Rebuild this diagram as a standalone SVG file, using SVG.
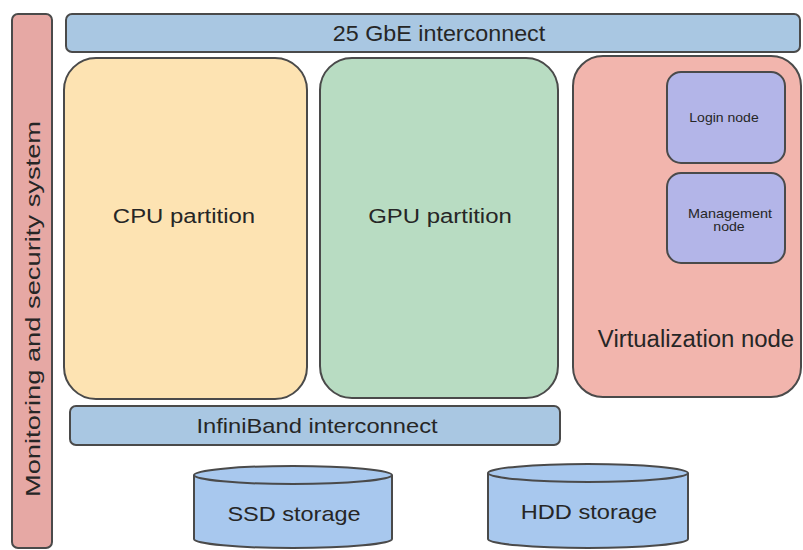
<svg xmlns="http://www.w3.org/2000/svg" width="803" height="550" viewBox="0 0 803 550">
<style>
.s{stroke:#4a4a4a;stroke-width:2}
.t{font-family:"Liberation Sans",Arial,sans-serif;fill:#262626;text-anchor:middle;dominant-baseline:central}
</style>
<rect width="803" height="550" fill="#ffffff"/>
<g id="monitoring">
<rect class="s" x="12" y="14" width="40" height="534" rx="6" fill="#e6a8a4"/>
<text class="t" font-size="21" transform="translate(33,309) rotate(-90) scale(1.3,1)">Monitoring and security system</text>
</g>
<g id="gbe">
<rect class="s" x="66" y="14" width="734" height="38" rx="6" fill="#a9c7e2"/>
<text class="t" font-size="22" transform="translate(439,33) scale(1.06,1)">25 GbE interconnect</text>
</g>
<g id="cpu">
<rect class="s" x="64" y="58" width="243" height="341" rx="32" fill="#fde3b2"/>
<text class="t" font-size="21" transform="translate(184,216) scale(1.14,1)">CPU partition</text>
</g>
<g id="gpu">
<rect class="s" x="320" y="58" width="238" height="340" rx="32" fill="#b8dcc2"/>
<text class="t" font-size="21" transform="translate(440,216) scale(1.14,1)">GPU partition</text>
</g>
<g id="virtualization">
<rect class="s" x="573" y="56" width="228" height="341" rx="30" fill="#f2b5ad"/>
<text class="t" font-size="23" transform="translate(696,339) scale(1.04,1)">Virtualization node</text>
</g>
<g id="login">
<rect class="s" x="667" y="72" width="118" height="91" rx="14" fill="#b3b5e8"/>
<text class="t" font-size="12" transform="translate(724,118) scale(1.17,1)">Login node</text>
</g>
<g id="management">
<rect class="s" x="667" y="173" width="118" height="90" rx="14" fill="#b3b5e8"/>
<text class="t" font-size="12" transform="translate(730,214) scale(1.2,1)">Management</text>
<text class="t" font-size="12" transform="translate(729,227) scale(1.18,1)">node</text>
</g>
<g id="infiniband">
<rect class="s" x="70" y="406" width="490" height="39" rx="6" fill="#a9c7e2"/>
<text class="t" font-size="21" transform="translate(317,426) scale(1.13,1)">InfiniBand interconnect</text>
</g>
<g id="ssd">
<path class="s" d="M194,475 L194,539 A99,9 0 0 0 392,539 L392,475" fill="#a8c8ee"/>
<ellipse class="s" cx="293" cy="475" rx="99" ry="9" fill="#a8c8ee"/>
<text class="t" font-size="21" transform="translate(294,514) scale(1.12,1)">SSD storage</text>
</g>
<g id="hdd">
<path class="s" d="M488,473 L488,539 A100,9 0 0 0 688,539 L688,473" fill="#a8c8ee"/>
<ellipse class="s" cx="588" cy="473" rx="100" ry="9" fill="#a8c8ee"/>
<text class="t" font-size="21" transform="translate(589,512) scale(1.125,1)">HDD storage</text>
</g>
<g id="connectors"></g>
</svg>
